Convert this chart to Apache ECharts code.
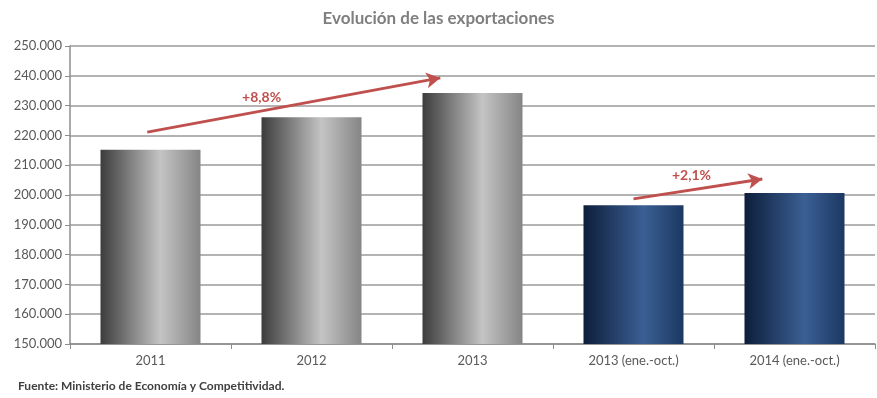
<!DOCTYPE html>
<html>
<head>
<meta charset="utf-8">
<script src="https://cdn.jsdelivr.net/npm/echarts@6/dist/echarts.min.js"></script>
<style>
  html, body { margin: 0; padding: 0; background: #fff; }
  #chart { width: 877px; height: 398px; }
</style>
</head>
<body>
<div id="chart"></div>
<script>
// categorias y valores (millones de euros)
const categories = ['2011', '2012', '2013', '2013 (ene.-oct.)', '2014 (ene.-oct.)'];
const exports = [215200, 226100, 234200, 196600, 200700];
const isPartial = [false, false, false, true, true];
const yTicks = { min: 150000, max: 250000, interval: 10000 };

// flechas de variacion: [inicio, fin] en (indice de categoria, valor)
const arrowAnual = [[-0.02, 221100], [1.8, 239300]];
const arrowParcial = [[3.0, 198700], [3.8, 205400]];
const arrowLabels = [
  { text: '+8,8%', at: [0.69, 232600] },
  { text: '+2,1%', at: [3.36, 206400] }
];

const fontFam = 'Lato, "Open Sans", sans-serif';

function grayGrad() {
  return new echarts.graphic.LinearGradient(0, 0, 1, 0, [
    { offset: 0, color: '#3c3c3c' },
    { offset: 0.6, color: '#c4c4c4' },
    { offset: 1, color: '#858585' }
  ]);
}
function blueGrad() {
  return new echarts.graphic.LinearGradient(0, 0, 1, 0, [
    { offset: 0, color: '#0d1e3a' },
    { offset: 0.6, color: '#3b5f94' },
    { offset: 1, color: '#1b3862' }
  ]);
}

function fmt(v) {
  return String(v).replace(/\B(?=(\d{3})+(?!\d))/g, '.');
}

const barData = exports.map((v, i) => ({
  value: v,
  itemStyle: { color: isPartial[i] ? blueGrad() : grayGrad() }
}));

const arrowStyle = { color: '#c0504d', width: 3, type: 'solid' };

const chart = echarts.init(document.getElementById('chart'));
chart.setOption({
  animation: false,
  title: {
    text: 'Evolución de las exportaciones',
    left: 'center',
    top: 5,
    textStyle: { fontFamily: fontFam, fontSize: 17, fontWeight: 'bold', color: '#7f7f7f' }
  },
  graphic: [{
    type: 'text',
    left: 18,
    top: 380,
    style: {
      text: 'Fuente: Ministerio de Economía y Competitividad.',
      font: 'bold 12px ' + fontFam,
      fill: '#404040'
    }
  }],
  grid: { left: 70, right: 2, top: 46, bottom: 54 },
  xAxis: [{
    type: 'category',
    data: categories,
    axisLine: { lineStyle: { color: '#8c8c8c', width: 1.5 } },
    axisTick: { show: true, length: 5, lineStyle: { color: '#8c8c8c' } },
    axisLabel: { color: '#595959', fontFamily: fontFam, fontSize: 13, margin: 10 }
  }, {
    type: 'value',
    min: -0.5,
    max: 4.5,
    show: false
  }],
  yAxis: {
    type: 'value',
    min: yTicks.min,
    max: yTicks.max,
    interval: yTicks.interval,
    axisLine: { show: true, onZero: false, lineStyle: { color: '#8c8c8c', width: 1.5 } },
    axisTick: { show: true, length: 5, lineStyle: { color: '#8c8c8c' } },
    splitLine: { lineStyle: { color: '#9a9a9a', width: 1.5 } },
    axisLabel: { color: '#595959', fontFamily: fontFam, fontSize: 13, margin: 8, formatter: fmt }
  },
  series: [{
    type: 'bar',
    data: barData,
    barWidth: 100,
    z: 3
  }, {
    type: 'line',
    xAxisIndex: 1,
    data: [],
    z: 5,
    markLine: {
      silent: true,
      symbol: ['none', 'arrow'],
      symbolSize: [12, 14],
      label: { show: false },
      lineStyle: arrowStyle,
      data: [
        [{ coord: arrowAnual[0] }, { coord: arrowAnual[1] }],
        [{ coord: arrowParcial[0] }, { coord: arrowParcial[1] }]
      ]
    },
    markPoint: {
      silent: true,
      symbolSize: 0,
      label: {
        show: true,
        color: '#c0504d',
        fontFamily: fontFam,
        fontSize: 14,
        fontWeight: 'bold',
        formatter: p => p.name
      },
      data: arrowLabels.map(l => ({ name: l.text, coord: l.at }))
    }
  }]
});
</script>
</body>
</html>
